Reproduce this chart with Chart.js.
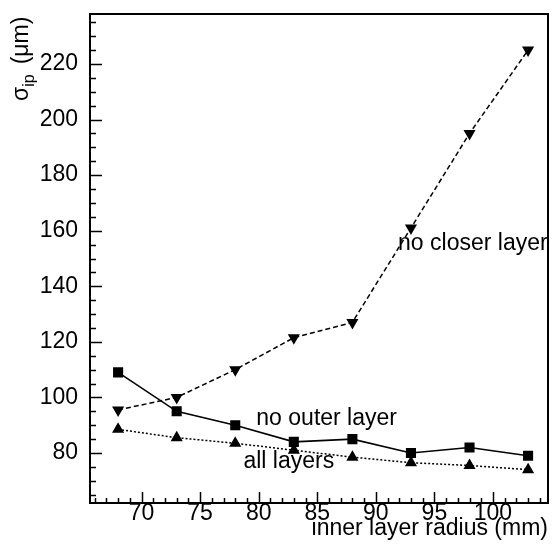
<!DOCTYPE html>
<html lang="en">
<head>
  <meta charset="UTF-8">
  <title>Impact parameter resolution vs inner layer radius</title>
  <script src="https://cdn.jsdelivr.net/npm/chart.js"></script>
  <style>
    html, body {
      margin: 0;
      padding: 0;
      background: #fff;
    }
    #wrap {
      width: 552px;
      height: 547px;
    }
  </style>
</head>
<body>
  <div id="wrap">
    <canvas id="ipChart" width="552" height="547"></canvas>
  </div>

  <script>
    // inner layer radius (mm)
    const radius = [68, 73, 78, 83, 88, 93, 98, 103];
    // sigma_ip (um) per configuration
    const noOuterLayer = [109, 95, 90, 84, 85, 80, 82, 79];
    const allLayers = [88.5, 85.5, 83.5, 81, 78.5, 76.5, 75.5, 74];
    const noCloserLayer = [95.5, 100, 110, 121.5, 127, 161, 195, 225];

    const xTickValues = [70, 75, 80, 85, 90, 95, 100];
    const yTickValues = [80, 100, 120, 140, 160, 180, 200, 220];

    // curve labels, anchored in data units (left edge, vertical centre)
    const curveLabels = [
      { text: 'no closer layer', x: 91.9, y: 155.5 },
      { text: 'no outer layer', x: 79.8, y: 92.5 },
      { text: 'all layers', x: 78.7, y: 77 }
    ];

    const FONT = '"Liberation Sans", Arial, Helvetica, sans-serif';
    const toPoints = (vals) => radius.map((r, i) => ({ x: r, y: vals[i] }));

    // pin the right edge of the plot frame (4px in from the canvas edge)
    const rightEdge = {
      id: 'rightEdge',
      afterLayout(chart) {
        const x = chart.scales.x;
        const r = chart.width - 4;
        chart.chartArea.right = r;
        chart.chartArea.width = r - chart.chartArea.left;
        x.right = r;
        x.width = r - x.left;
        x.configure();
      }
    };

    // frame, inward ticks, curve labels and the y title
    const decorations = {
      id: 'decorations',
      afterDatasetsDraw(chart) {
        const { ctx, chartArea: a, scales: { x, y } } = chart;
        ctx.save();
        ctx.strokeStyle = '#000';
        ctx.lineWidth = 2;
        ctx.strokeRect(a.left, a.top, a.right - a.left, a.bottom - a.top);

        ctx.lineWidth = 1.5;
        ctx.beginPath();
        for (let v = Math.ceil(x.min); v <= x.max; v++) {
          const px = Math.round(x.getPixelForValue(v)) + 0.5;
          const len = v % 5 === 0 ? 11 : 5;
          ctx.moveTo(px, a.bottom);
          ctx.lineTo(px, a.bottom - len);
        }
        for (let v = Math.ceil(y.min / 5) * 5; v <= y.max; v += 5) {
          const py = Math.round(y.getPixelForValue(v)) + 0.5;
          const len = v % 20 === 0 ? 12 : 6;
          ctx.moveTo(a.left, py);
          ctx.lineTo(a.left + len, py);
        }
        ctx.stroke();

        ctx.fillStyle = '#000';
        ctx.font = '23px ' + FONT;
        ctx.textAlign = 'left';
        ctx.textBaseline = 'middle';
        curveLabels.forEach(l => {
          ctx.fillText(l.text, x.getPixelForValue(l.x), y.getPixelForValue(l.y));
        });

        // y title: sigma_ip (um), rotated
        ctx.translate(22, 101);
        ctx.rotate(-Math.PI / 2);
        ctx.textAlign = 'left';
        ctx.textBaseline = 'middle';
        ctx.font = '23px ' + FONT;
        ctx.fillText('σ', 0, 0);
        let off = ctx.measureText('σ').width;
        ctx.font = '16px ' + FONT;
        ctx.fillText('ip', off, 8);
        off += ctx.measureText('ip').width;
        ctx.font = '23px ' + FONT;
        ctx.fillText('(μm)', off + 10, 0);
        ctx.restore();
      }
    };

    new Chart(document.getElementById('ipChart'), {
      type: 'scatter',
      data: {
        datasets: [
          {
            label: 'no closer layer',
            data: toPoints(noCloserLayer),
            showLine: true,
            borderColor: '#000',
            backgroundColor: '#000',
            borderWidth: 1.5,
            borderDash: [5, 3],
            pointStyle: 'triangle',
            rotation: 180,
            pointRadius: 5.5
          },
          {
            label: 'no outer layer',
            data: toPoints(noOuterLayer),
            showLine: true,
            borderColor: '#000',
            backgroundColor: '#000',
            borderWidth: 1.6,
            pointStyle: 'rect',
            pointRadius: 6
          },
          {
            label: 'all layers',
            data: toPoints(allLayers),
            showLine: true,
            borderColor: '#000',
            backgroundColor: '#000',
            borderWidth: 1.5,
            borderDash: [2, 2],
            pointStyle: 'triangle',
            pointRadius: 5.5
          }
        ]
      },
      options: {
        responsive: false,
        animation: false,
        layout: { padding: { top: 14, right: 4, left: 0, bottom: 0 } },
        plugins: {
          legend: { display: false },
          tooltip: { enabled: false }
        },
        scales: {
          x: {
            type: 'linear',
            min: 65.6,
            max: 104.7,
            grid: { display: false, drawTicks: false },
            border: { display: false },
            afterBuildTicks: (s) => { s.ticks = xTickValues.map(v => ({ value: v })); },
            afterFit: (s) => {
              s.height = 44;
              s.paddingLeft = 0;
              s.paddingRight = 0;
            },
            ticks: {
              color: '#000',
              padding: -1,
              font: { family: FONT, size: 23, lineHeight: 1 },
              maxRotation: 0
            },
            title: {
              display: true,
              text: 'inner layer radius (mm)',
              align: 'end',
              color: '#000',
              font: { family: FONT, size: 23 },
              padding: { top: 0, bottom: 5 }
            }
          },
          y: {
            type: 'linear',
            min: 62,
            max: 238,
            grid: { display: false, drawTicks: false },
            border: { display: false },
            afterBuildTicks: (s) => { s.ticks = yTickValues.map(v => ({ value: v })); },
            afterFit: (s) => {
              s.width = 90;
              s.paddingTop = 0;
              s.paddingBottom = 0;
            },
            ticks: {
              color: '#000',
              padding: 12,
              font: { family: FONT, size: 23 }
            }
          }
        }
      },
      plugins: [rightEdge, decorations]
    });
  </script>
</body>
</html>
